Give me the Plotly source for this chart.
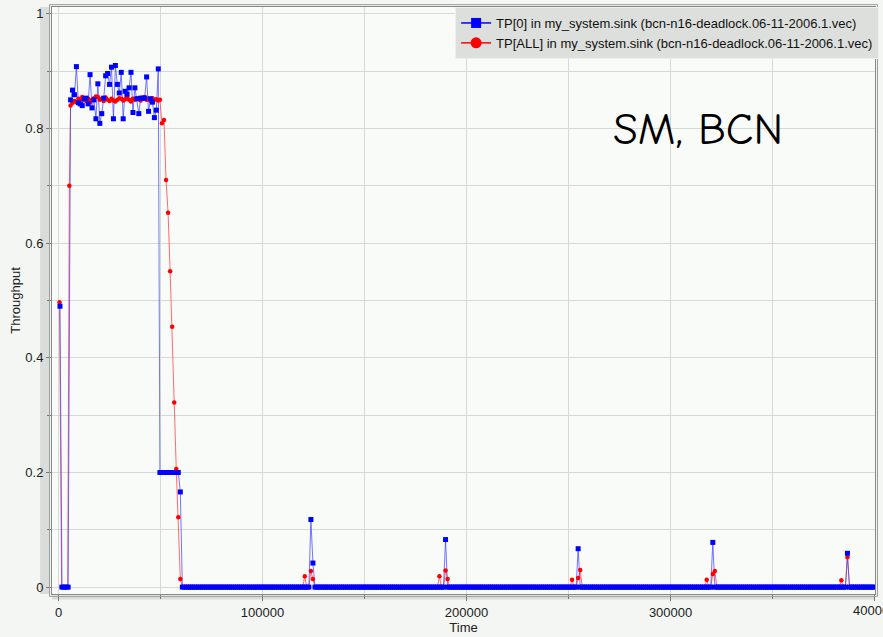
import numpy as np
import plotly.graph_objects as go

# ---------------- data ----------------
blue_name = "TP[0] in my_system.sink (bcn-n16-deadlock.06-11-2006.1.vec)"
red_name = "TP[ALL] in my_system.sink (bcn-n16-deadlock.06-11-2006.1.vec)"

blue_start_t = [700, 1700, 2700, 3700, 4700]
blue_start_v = [0.49, 0.0, 0.0, 0.0, 0.0]
blue_plateau_v = [0.850, 0.867, 0.859, 0.908, 0.845, 0.843, 0.840, 0.852, 0.853, 0.843,
                  0.894, 0.836, 0.850, 0.817, 0.878, 0.809, 0.826, 0.853, 0.892, 0.896,
                  0.877, 0.907, 0.817, 0.910, 0.877, 0.862, 0.898, 0.817, 0.865, 0.860,
                  0.871, 0.898, 0.828, 0.871, 0.852, 0.826, 0.853, 0.853, 0.853, 0.890,
                  0.830, 0.852, 0.846, 0.819, 0.832, 0.904]
blue_drop_t = [49700, 50700, 51700, 52700, 53700, 54700, 55700, 56700, 57700, 58700, 59700]
blue_drop_v = [0.2, 0.2, 0.2, 0.2, 0.2, 0.2, 0.2, 0.2, 0.2, 0.2, 0.166]
blue_spikes = {123700: 0.118, 124700: 0.042, 189700: 0.083, 254700: 0.067,
               320700: 0.078, 386700: 0.059}

red_start_t = [500, 1500, 2500, 3500, 4500, 5300]
red_start_v = [0.497, 0.0, 0.0, 0.0, 0.0, 0.70]
red_plateau_v = [0.840, 0.845, 0.848, 0.846, 0.852, 0.850, 0.855, 0.850, 0.848, 0.852,
                 0.846, 0.850, 0.853, 0.856, 0.855, 0.850, 0.852, 0.848, 0.854, 0.850,
                 0.848, 0.852, 0.849, 0.847, 0.850, 0.853, 0.852, 0.849, 0.851, 0.855,
                 0.850, 0.847, 0.852, 0.850, 0.853, 0.851, 0.849, 0.852, 0.855, 0.850,
                 0.852, 0.848, 0.853, 0.850, 0.851, 0.849]
red_drop_t = [49700, 50700, 51700, 52700, 53700, 54700, 55700, 56700, 57700, 58700, 59700]
red_drop_v = [0.850, 0.809, 0.815, 0.710, 0.653, 0.551, 0.454, 0.322, 0.206, 0.122, 0.014]
red_spikes = {120700: 0.019, 123700: 0.028, 124700: 0.014,
              186700: 0.019, 189700: 0.029, 190700: 0.014,
              251700: 0.013, 254700: 0.016, 255700: 0.030,
              317700: 0.013, 320700: 0.023, 321700: 0.028,
              383700: 0.012, 386700: 0.052}

plateau_t = np.linspace(5900, 48900, len(blue_plateau_v))   # sampling times
tail_t = np.arange(60700, 400001, 1000)                        # sampling times

y_ticks = [0, 0.2, 0.4, 0.6, 0.8, 1]
y_labels = ["0", "0.2", "0.4", "0.6", "0.8", "1"]
x_ticks = [0, 100000, 200000, 300000, 400000]
x_labels = ["0", "100000", "200000", "300000", "400000"]

# ---------------- assemble series ----------------
blue_t = np.concatenate([blue_start_t, plateau_t, blue_drop_t, tail_t])
blue_v = np.concatenate([blue_start_v, blue_plateau_v, blue_drop_v,
                         [blue_spikes.get(int(t), 0.0) for t in tail_t]])
red_t = np.concatenate([red_start_t, plateau_t, red_drop_t, tail_t])
red_v = np.concatenate([red_start_v, red_plateau_v, red_drop_v,
                        [red_spikes.get(int(t), 0.0) for t in tail_t]])

BLUE = "#0000ff"
RED = "#ff0000"
FONT = "Liberation Sans, Arial, sans-serif"

fig = go.Figure()
fig.add_trace(go.Scatter(x=red_t, y=red_v, mode="lines", showlegend=False,
                         line=dict(color="rgba(255,60,60,0.75)", width=1), hoverinfo="skip"))
fig.add_trace(go.Scatter(x=blue_t, y=blue_v, mode="lines", showlegend=False,
                         line=dict(color="rgba(60,60,255,0.7)", width=1), hoverinfo="skip"))
fig.add_trace(go.Scatter(x=red_t, y=red_v, mode="markers", showlegend=False,
                         marker=dict(color=RED, size=4.5, symbol="circle", line=dict(width=0))))
fig.add_trace(go.Scatter(x=blue_t, y=blue_v, mode="markers", showlegend=False,
                         marker=dict(color=BLUE, size=5, symbol="square", line=dict(width=0))))
# legend entries
fig.add_trace(go.Scatter(x=[None], y=[None], mode="lines+markers", name=blue_name,
                         line=dict(color=BLUE, width=1.5),
                         marker=dict(color=BLUE, size=10, symbol="square")))
fig.add_trace(go.Scatter(x=[None], y=[None], mode="lines+markers", name=red_name,
                         line=dict(color=RED, width=1.5),
                         marker=dict(color=RED, size=11, symbol="circle")))

grid = "#d6dad6"
fig.update_xaxes(range=[-3200, 400200], tickvals=x_ticks, ticktext=x_labels[:-1] + [""],
                 showgrid=True, gridcolor=grid, gridwidth=1,
                 minor=dict(dtick=50000, tick0=0, showgrid=True, gridcolor=grid,
                            ticks="outside", ticklen=4, tickcolor="#777"),
                 ticks="outside", ticklen=6, tickcolor="#777",
                 showline=True, linecolor="#888", linewidth=1, mirror=True,
                 zeroline=False, title=dict(text="Time", font=dict(size=13, family=FONT), standoff=4),
                 tickfont=dict(size=13, family=FONT, color="#222"))
fig.update_yaxes(range=[-0.012, 1.012], tickvals=y_ticks, ticktext=y_labels,
                 showgrid=True, gridcolor=grid, gridwidth=1,
                 minor=dict(dtick=0.1, tick0=0, showgrid=True, gridcolor=grid,
                            ticks="outside", ticklen=4, tickcolor="#777"),
                 ticks="outside", ticklen=5, tickcolor="#777",
                 showline=True, linecolor="#888", linewidth=1, mirror=True,
                 zeroline=False, title=dict(text="Throughput", font=dict(size=13, family=FONT), standoff=1),
                 tickfont=dict(size=13, family=FONT, color="#222"))

# last x tick label, clipped by the page edge as in the original
fig.add_annotation(x=x_ticks[-1], y=0, xref="x", yref="paper", text=x_labels[-1],
                   showarrow=False, xanchor="center", yanchor="top", yshift=-7,
                   font=dict(size=13, family=FONT, color="#222"))

# ruler strips beside the axes
fig.add_shape(type="rect", xref="paper", yref="paper", x0=-0.0145, x1=-0.0025, y0=0, y1=1,
              fillcolor="#d9dcd9", line=dict(width=0), layer="below")
fig.add_shape(type="rect", xref="paper", yref="paper", x0=0, x1=1, y0=-0.0095, y1=-0.003,
              fillcolor="#d9dcd9", line=dict(width=0), layer="below")
fig.add_shape(type="rect", xref="paper", yref="paper", x0=-0.003, x1=1.003, y0=-0.004, y1=1.004,
              fillcolor="rgba(0,0,0,0)", line=dict(width=1, color="#9a9e9a"), layer="above")

fig.add_annotation(x=0.785, y=0.792, xref="paper", yref="paper", text="SM, BCN",
                   showarrow=False, xanchor="center", yanchor="middle",
                   font=dict(size=45, family="Comic Sans MS, Comic Neue, Lato, sans-serif",
                             color="#000", weight=500))

fig.update_layout(
    width=883, height=637,
    margin=dict(l=52, r=4, t=7, b=41),
    paper_bgcolor="#f3f6f3",
    plot_bgcolor="#f8fbf8",
    font=dict(family=FONT, size=13, color="#222"),
    legend=dict(x=1.005, y=1.0, xanchor="right", yanchor="top",
                bgcolor="#dcdfdc", bordercolor="#eef0ee", borderwidth=1,
                font=dict(size=13, family=FONT, color="#111"),
                tracegroupgap=0, itemwidth=30),
    showlegend=True,
)

fig.write_html("out.html")
